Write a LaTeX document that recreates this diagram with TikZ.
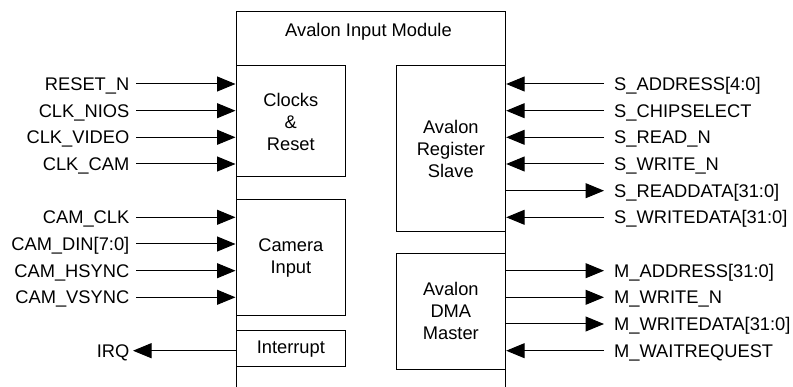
\documentclass[tikz,border=0pt]{standalone}
\usepackage{fontspec}
\setmainfont{Liberation Sans}
\usetikzlibrary{arrows.meta,positioning}

\begin{document}
\begin{tikzpicture}[
  x=1pt, y=-1pt,
  font=\fontsize{18.3}{22}\selectfont,
  block/.style={draw, line width=1pt, align=center, minimum width=109.7pt, inner sep=0pt},
  sig/.style={-{Triangle[length=18.5pt, width=15pt]}, line width=1pt},
  inlbl/.style={anchor=east, inner xsep=6.5pt, inner ysep=0pt, text height=13pt, text depth=0pt},
  outlbl/.style={anchor=west, inner xsep=10pt, inner ysep=0pt, text height=13pt, text depth=0pt}
]
  \useasboundingbox (0,0) rectangle (793,387);

  % module frame, open at the bottom
  \coordinate (fbl) at (236,387);
  \coordinate (ftl) at (236,12);
  \coordinate (ftr) at (505.7,12);
  \coordinate (fbr) at (505.7,387);
  \draw[line width=1pt] (fbl) -- (ftl) -- (ftr) -- (fbr);
  \node (title) at (368.5,32) {Avalon Input Module};

  % sub-blocks
  \node[block, minimum height=111pt] (clk) at (290.85,121.5) {Clocks\\\&\\Reset};
  \node[block, minimum height=116pt] (cam) at (290.85,257.7) {Camera\\Input};
  \node[block, minimum height=36pt] (intr) at (290.85,348.7) {Interrupt};
  \node[block, minimum height=165.7pt] (slave) at (450.85,148.85) {Avalon\\Register\\Slave};
  \node[block, minimum height=115.7pt] (master) at (450.85,311.2) {Avalon\\DMA\\Master};

  % left side signals
  \node[inlbl] (rst) at (136,84) {RESET\_N};
  \node[inlbl] (nios) at (136,110.7) {CLK\_NIOS};
  \node[inlbl] (video) at (136,137.3) {CLK\_VIDEO};
  \node[inlbl] (clkcam) at (136,164) {CLK\_CAM};
  \node[inlbl] (camclk) at (136,217.3) {CAM\_CLK};
  \node[inlbl] (din) at (136,244) {CAM\_DIN[7:0]};
  \node[inlbl] (hsync) at (136,270.7) {CAM\_HSYNC};
  \node[inlbl] (vsync) at (136,297.3) {CAM\_VSYNC};
  \node[inlbl] (irq) at (136,350.7) {IRQ};

  \draw[sig] (rst.east) -- (rst.east -| clk.west);
  \draw[sig] (nios.east) -- (nios.east -| clk.west);
  \draw[sig] (video.east) -- (video.east -| clk.west);
  \draw[sig] (clkcam.east) -- (clkcam.east -| clk.west);
  \draw[sig] (camclk.east) -- (camclk.east -| cam.west);
  \draw[sig] (din.east) -- (din.east -| cam.west);
  \draw[sig] (hsync.east) -- (hsync.east -| cam.west);
  \draw[sig] (vsync.east) -- (vsync.east -| cam.west);
  \draw[sig, shorten >=-3pt] (irq.east -| intr.west) -- (irq.east);

  % right side signals
  \node[outlbl] (saddr) at (604,84) {S\_ADDRESS[4:0]};
  \node[outlbl] (scs) at (604,110.7) {S\_CHIPSELECT};
  \node[outlbl] (sread) at (604,137.3) {S\_READ\_N};
  \node[outlbl] (swrite) at (604,164) {S\_WRITE\_N};
  \node[outlbl] (srdata) at (604,190.7) {S\_READDATA[31:0]};
  \node[outlbl] (swdata) at (604,217.3) {S\_WRITEDATA[31:0]};
  \node[outlbl] (maddr) at (604,270.7) {M\_ADDRESS[31:0]};
  \node[outlbl] (mwrite) at (604,297.3) {M\_WRITE\_N};
  \node[outlbl] (mwdata) at (604,324) {M\_WRITEDATA[31:0]};
  \node[outlbl] (mwait) at (604,350.7) {M\_WAITREQUEST};

  \draw[sig] (saddr.west) -- (saddr.west -| slave.east);
  \draw[sig] (scs.west) -- (scs.west -| slave.east);
  \draw[sig] (sread.west) -- (sread.west -| slave.east);
  \draw[sig] (swrite.west) -- (swrite.west -| slave.east);
  \draw[sig] (srdata.west -| slave.east) -- (srdata.west);
  \draw[sig] (swdata.west) -- (swdata.west -| slave.east);
  \draw[sig] (maddr.west -| master.east) -- (maddr.west);
  \draw[sig] (mwrite.west -| master.east) -- (mwrite.west);
  \draw[sig] (mwdata.west -| master.east) -- (mwdata.west);
  \draw[sig] (mwait.west) -- (mwait.west -| master.east);
\end{tikzpicture}
\end{document}
